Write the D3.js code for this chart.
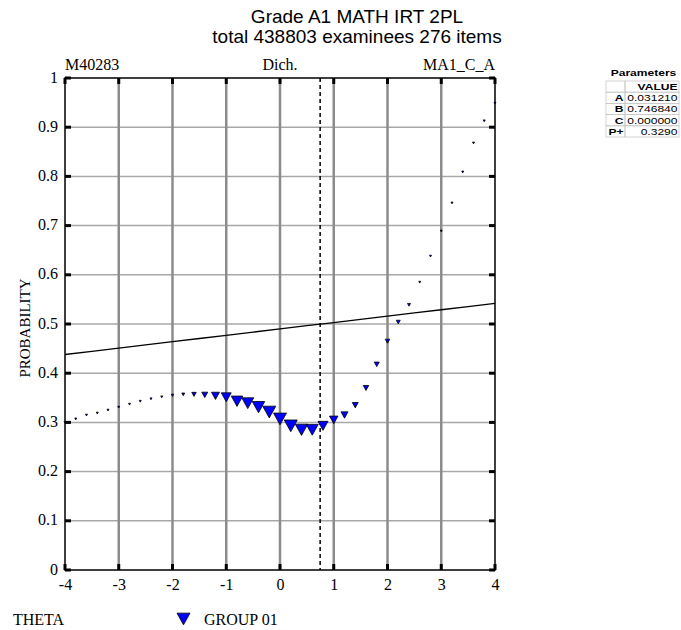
<!DOCTYPE html>
<html lang="en">
<head>
  <meta charset="UTF-8">
  <title>Grade A1 MATH IRT 2PL</title>
  <script src="https://cdn.jsdelivr.net/npm/d3@7"></script>
  <style>
    body { margin: 0; background: #fff; }
  </style>
</head>
<body>

  <svg id="svg" width="681" height="630"></svg>

  <script>
    // theta bins for the observed proportions
    const theta = [-4.0, -3.8, -3.6, -3.4, -3.2, -3.0, -2.8, -2.6, -2.4, -2.2,
                   -2.0, -1.8, -1.6, -1.4, -1.2, -1.0, -0.8, -0.6, -0.4, -0.2,
                    0.0,  0.2,  0.4,  0.6,  0.8,  1.0,  1.2,  1.4,  1.6,  1.8,
                    2.0,  2.2,  2.4,  2.6,  2.8,  3.0,  3.2,  3.4,  3.6,  3.8, 4.0]
    // observed proportion correct (GROUP 01)
    const observed = [0.300, 0.307, 0.315, 0.319, 0.325, 0.331, 0.337, 0.343, 0.348, 0.352,
                      0.355, 0.357, 0.357, 0.356, 0.354, 0.351, 0.343, 0.339, 0.331, 0.321,
                      0.307, 0.293, 0.285, 0.285, 0.293, 0.305, 0.315, 0.335, 0.370, 0.418,
                      0.465, 0.504, 0.539, 0.585, 0.638, 0.689, 0.746, 0.809, 0.868, 0.913, 0.949]
    // relative number of examinees in each bin (drives marker size)
    const groupShare = [2.4, 2.4, 2.4, 2.4, 2.4, 2.4, 2.4, 2.4, 2.4, 2.4,
                        3.7, 5.3, 12, 21, 38, 59, 78, 85, 92, 100,
                        100, 100, 92, 85, 59, 43, 29, 21, 18, 15,
                        12, 9.5, 5.3, 2.4, 2.4, 2.4, 2.4, 2.4, 2.4, 2.4, 2.4]

    // fitted 2PL curve read at integer theta
    const curveTheta = [-4, -3, -2, -1, 0, 1, 2, 3, 4]
    const curveProb = [0.438, 0.451, 0.464, 0.477, 0.490, 0.503, 0.516, 0.529, 0.542]
    const difficulty = 0.74684

    const xTicks = [-4, -3, -2, -1, 0, 1, 2, 3, 4]
    const yTicks = [0, 0.1, 0.2, 0.3, 0.4, 0.5, 0.6, 0.7, 0.8, 0.9, 1]

    const paramNames = ['A', 'B', 'C', 'P+']
    const paramValues = ['0.031210', '0.746840', '0.000000', '0.3290']

    const serif = '"Liberation Serif", "Times New Roman", serif'
    const sans = '"Liberation Sans", Arial, sans-serif'

    const margin = { top: 78, right: 186, bottom: 60, left: 65 }
    const W = 681, H = 630

    const x = d3.scaleLinear().domain([-4, 4]).range([margin.left, W - margin.right])
    const y = d3.scaleLinear().domain([0, 1]).range([H - margin.bottom, margin.top])
    const size = d3.scaleSqrt().domain([0, 100]).range([0, 13])

    const svg = d3.select('#svg')

    // title
    const title = svg.append('g').attr('font-family', sans).attr('font-size', 19)
      .attr('text-anchor', 'middle')
    title.append('text').attr('x', 357).attr('y', 23).text('Grade A1 MATH IRT 2PL')
    title.append('text').attr('x', 357).attr('y', 43).text('total 438803 examinees 276 items')

    // grid lines
    svg.append('g')
      .selectAll('line')
      .data(yTicks.slice(1, -1))
      .join('line')
      .attr('x1', x(-4)).attr('x2', x(4))
      .attr('y1', d => y(d)).attr('y2', d => y(d))
      .attr('stroke', '#a8a8a8').attr('stroke-width', 1.5)

    svg.append('g')
      .selectAll('line')
      .data(xTicks.slice(1, -1))
      .join('line')
      .attr('x1', d => x(d)).attr('x2', d => x(d))
      .attr('y1', y(0)).attr('y2', y(1))
      .attr('stroke', '#8c8c8c').attr('stroke-width', 2.5)

    // frame
    svg.append('rect')
      .attr('x', x(-4)).attr('y', y(1))
      .attr('width', x(4) - x(-4)).attr('height', y(0) - y(1))
      .attr('fill', 'none').attr('stroke', '#000').attr('stroke-width', 1.5)

    // tick marks inside the frame
    const ticks = svg.append('g').attr('fill', '#000')
    yTicks.forEach(t => {
      ticks.append('rect').attr('x', x(-4)).attr('y', y(t) - 1.5).attr('width', 6).attr('height', 3)
      ticks.append('rect').attr('x', x(4) - 6).attr('y', y(t) - 1.5).attr('width', 6).attr('height', 3)
    })
    xTicks.forEach(t => {
      ticks.append('rect').attr('x', x(t) - 1.5).attr('y', y(1)).attr('width', 3).attr('height', 6)
      ticks.append('rect').attr('x', x(t) - 1.5).attr('y', y(0) - 6).attr('width', 3).attr('height', 6)
    })

    // axis labels via d3 axes (no tick lines)
    const yAxis = svg.append('g')
      .attr('transform', `translate(${x(-4) - 7}, -1)`)
      .call(d3.axisLeft(y).tickValues(yTicks).tickSize(0).tickPadding(0).tickFormat(d => String(+d.toFixed(1))))
    const xAxis = svg.append('g')
      .attr('transform', `translate(0, ${y(0) + 9})`)
      .call(d3.axisBottom(x).tickValues(xTicks).tickSize(0).tickPadding(0).tickFormat(d => String(d)))
    ;[yAxis, xAxis].forEach(a => {
      a.select('.domain').remove()
      a.selectAll('text').attr('font-family', serif).attr('font-size', 16).attr('fill', '#000')
    })

    // top labels
    const topLabels = svg.append('g').attr('font-family', serif).attr('font-size', 16)
    topLabels.append('text').attr('x', x(-4)).attr('y', 70).text('M40283')
    topLabels.append('text').attr('x', x(0)).attr('y', 70).attr('text-anchor', 'middle').text('Dich.')
    topLabels.append('text').attr('x', x(4)).attr('y', 70).attr('text-anchor', 'end').text('MA1_C_A')

    svg.append('text')
      .attr('transform', `translate(30, ${y(0.5) + 4}) rotate(-90)`)
      .attr('text-anchor', 'middle')
      .attr('font-family', serif).attr('font-size', 15)
      .text('PROBABILITY')

    // fitted curve
    svg.append('path')
      .datum(curveTheta.map((t, i) => [t, curveProb[i]]))
      .attr('fill', 'none').attr('stroke', '#000').attr('stroke-width', 1.3)
      .attr('d', d3.line().x(d => x(d[0])).y(d => y(d[1])).curve(d3.curveMonotoneX))

    // difficulty marker
    svg.append('line')
      .attr('x1', x(difficulty)).attr('x2', x(difficulty))
      .attr('y1', y(1)).attr('y2', y(0))
      .attr('stroke', '#000').attr('stroke-width', 1.5).attr('stroke-dasharray', '4,3')

    // observed points as down triangles
    const tri = w => {
      const h = w * 0.9
      return `M${-w / 2},${-h / 2}L${w / 2},${-h / 2}L0,${h / 2}Z`
    }
    svg.append('g')
      .selectAll('path')
      .data(theta.map((t, i) => ({ t, p: observed[i], n: groupShare[i] })))
      .join('path')
      .attr('transform', d => `translate(${x(d.t)},${y(d.p)})`)
      .attr('d', d => tri(size(d.n)))
      .attr('fill', '#0000ff').attr('stroke', '#000').attr('stroke-width', 0.8)

    // legend
    svg.append('text').attr('x', 13).attr('y', 625)
      .attr('font-family', serif).attr('font-size', 16).text('THETA')
    svg.append('path').attr('transform', 'translate(183.5,619)').attr('d', tri(13))
      .attr('fill', '#0000ff').attr('stroke', '#000').attr('stroke-width', 0.8)
    svg.append('text').attr('x', 204).attr('y', 625)
      .attr('font-family', serif).attr('font-size', 16).text('GROUP 01')

    // parameter table (text is drawn horizontally stretched like the source)
    const tbl = svg.append('g').attr('font-family', sans).attr('font-size', 9.5)
    const stretch = 1.27
    const tx0 = 606, tx1 = 625, tx2 = 679, ty0 = 81, rowH = 11.2
    const cellText = (xx, yy, anchor, bold, str) => tbl.append('text')
      .attr('transform', `translate(${xx},${yy}) scale(${stretch},1)`)
      .attr('text-anchor', anchor).attr('font-weight', bold ? 'bold' : 'normal').text(str)
    cellText((tx0 + tx2) / 2 + 1, 76, 'middle', true, 'Parameters')
    const rows = [['', 'VALUE']].concat(paramNames.map((n, i) => [n, paramValues[i]]))
    rows.forEach((r, i) => {
      const yy = ty0 + i * rowH
      tbl.append('rect').attr('x', tx0).attr('y', yy).attr('width', tx1 - tx0).attr('height', rowH)
        .attr('fill', 'none').attr('stroke', '#c8c8c8').attr('stroke-width', 0.8)
      tbl.append('rect').attr('x', tx1).attr('y', yy).attr('width', tx2 - tx1).attr('height', rowH)
        .attr('fill', 'none').attr('stroke', '#c8c8c8').attr('stroke-width', 0.8)
      cellText(tx1 - 1.5, yy + rowH - 2.2, 'end', true, r[0])
      cellText(tx2 - 1.5, yy + rowH - 2.2, 'end', i === 0, r[1])
    })
  </script>
</body>
</html>
